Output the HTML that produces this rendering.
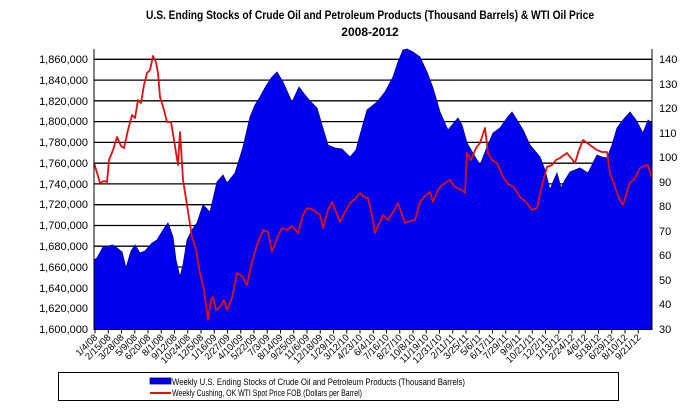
<!DOCTYPE html>
<html><head><meta charset="utf-8"><style>
html,body{margin:0;padding:0;background:#fff;}
svg{display:block;font-family:"Liberation Sans",Arial,sans-serif;}
</style></head><body>
<svg width="685" height="410" viewBox="0 0 685 410" xmlns="http://www.w3.org/2000/svg">
<text x="370" y="19" text-anchor="middle" font-size="12" font-weight="bold" textLength="448" lengthAdjust="spacingAndGlyphs">U.S. Ending Stocks of Crude Oil and Petroleum Products   (Thousand Barrels) &amp; WTI Oil Price</text>
<text x="370" y="36" text-anchor="middle" font-size="12" font-weight="bold">2008-2012</text>
<g stroke="#000" stroke-width="1.3">
<line x1="94" y1="59.3" x2="652" y2="59.3"/><line x1="94" y1="80.1" x2="652" y2="80.1"/><line x1="94" y1="100.8" x2="652" y2="100.8"/><line x1="94" y1="121.6" x2="652" y2="121.6"/><line x1="94" y1="142.4" x2="652" y2="142.4"/><line x1="94" y1="163.2" x2="652" y2="163.2"/><line x1="94" y1="183.9" x2="652" y2="183.9"/><line x1="94" y1="204.7" x2="652" y2="204.7"/><line x1="94" y1="225.5" x2="652" y2="225.5"/><line x1="94" y1="246.2" x2="652" y2="246.2"/><line x1="94" y1="267" x2="652" y2="267"/><line x1="94" y1="287.8" x2="652" y2="287.8"/><line x1="94" y1="308.5" x2="652" y2="308.5"/>
</g>
<polygon fill="#0000f0" stroke="#00008b" stroke-width="0.8" points="94,329.3 94,260 97,258 103,247 108,246 113,245 117,248 122,252 126,268 131,251 135,245 140,253 145,251 152,243 157,240 163,230 168,223 173,237 176,260 180,277 183,265 187,240 192,230 197,223 203,205 210,212 217,182 223,175 227,183 235,173 240,157 243,147 250,117 255,105 260,97 266,86 272,77 277,72 283,82 292,102 299,87 305,95 311,102 317,108 322,125 328,145 335,148 342,149 350,157 356,150 360,135 367,110 377,102 385,92 393,77 398,62 403,50 407,49 413,52 420,57 427,72 433,88 440,112 448,130 458,118 462,125 467,143 474,155 480,165 487,147 493,133 500,128 507,118 512,112 517,120 523,130 530,145 540,157 545,170 550,190 553,182 557,173 561,188 565,180 570,172 575,170 580,168 588,173 592,165 597,155 602,157 607,158 612,145 617,128 623,120 630,112 636,120 643,133 648,120 652,123 652,329.3"/>
<polyline fill="none" stroke="#e01010" stroke-width="1.8" stroke-linejoin="round" points="94,163 98,176 100,183 104,181 107,182 109,160 113,150 117,137 121,146 124,148 128,130 132,115 135,118 138,100 141,103 144,85 147,73 150,70 153,56 156,62 158,73 160,97 164,110 167,122 171,122 174,140 178,165 180,132 183,180 187,205 192,237 196,250 200,273 204,290 208,320 211,300 213,297 216,310 220,307 224,300 227,310 232,298 237,273 242,276 247,285 252,262 257,245 263,230 268,232 272,252 277,238 282,228 287,230 292,226 298,233 303,215 307,208 313,210 320,215 323,228 328,210 332,202 336,212 340,222 345,212 350,203 356,198 360,193 364,197 368,198 372,215 375,233 379,224 383,215 388,220 393,212 398,203 402,215 405,223 410,221 415,220 420,202 425,196 430,192 433,202 437,192 440,187 445,183 450,180 454,186 457,188 462,190 465,193 467,153 471,160 476,148 480,143 485,128 488,153 492,160 497,163 503,177 508,184 514,187 520,197 526,202 532,210 537,208 542,185 547,167 552,165 556,160 560,158 564,155 567,153 571,158 575,163 579,150 583,140 590,145 597,150 602,152 607,152 610,173 615,187 619,198 623,205 627,192 630,183 635,178 640,168 644,166 648,165 650,172 652,178"/>
<g stroke="#000" stroke-width="1">
<line x1="94" y1="49" x2="94" y2="330"/><line x1="652" y1="49" x2="652" y2="330"/><line x1="94" y1="329.5" x2="652" y2="329.5"/>
</g>
<path stroke="#000" stroke-width="1" fill="none" d="M95 329.5v4M108.25 329.5v4M121.5 329.5v4M134.75 329.5v4M148 329.5v4M161.25 329.5v4M174.5 329.5v4M187.75 329.5v4M201 329.5v4M214.25 329.5v4M227.5 329.5v4M240.75 329.5v4M254 329.5v4M267.25 329.5v4M280.5 329.5v4M293.75 329.5v4M307 329.5v4M320.25 329.5v4M333.5 329.5v4M346.75 329.5v4M360 329.5v4M373.25 329.5v4M386.5 329.5v4M399.75 329.5v4M413 329.5v4M426.25 329.5v4M439.5 329.5v4M452.75 329.5v4M466 329.5v4M479.25 329.5v4M492.5 329.5v4M505.75 329.5v4M519 329.5v4M532.25 329.5v4M545.5 329.5v4M558.75 329.5v4M572 329.5v4M585.25 329.5v4M598.5 329.5v4M611.75 329.5v4M625 329.5v4M638.25 329.5v4"/>
<g font-size="11" text-anchor="end" fill="#000">
<text x="88" y="63">1,860,000</text><text x="88" y="84">1,840,000</text><text x="88" y="105">1,820,000</text><text x="88" y="125">1,800,000</text><text x="88" y="146">1,780,000</text><text x="88" y="167">1,760,000</text><text x="88" y="188">1,740,000</text><text x="88" y="208">1,720,000</text><text x="88" y="229">1,700,000</text><text x="88" y="250">1,680,000</text><text x="88" y="271">1,660,000</text><text x="88" y="292">1,640,000</text><text x="88" y="312">1,620,000</text><text x="88" y="333">1,600,000</text>
</g>
<g font-size="11" fill="#000">
<text x="659" y="63">140</text><text x="659" y="88">130</text><text x="659" y="112">120</text><text x="659" y="137">110</text><text x="659" y="161">100</text><text x="659" y="186">90</text><text x="659" y="210">80</text><text x="659" y="235">70</text><text x="659" y="259">60</text><text x="659" y="284">50</text><text x="659" y="308">40</text><text x="659" y="333">30</text>
</g>
<g font-size="9.5" text-anchor="end" fill="#000">
<text transform="translate(98,338) rotate(-45)">1/4/08</text>
<text transform="translate(111.25,338) rotate(-45)">2/15/08</text>
<text transform="translate(124.5,338) rotate(-45)">3/28/08</text>
<text transform="translate(137.75,338) rotate(-45)">5/9/08</text>
<text transform="translate(151,338) rotate(-45)">6/20/08</text>
<text transform="translate(164.25,338) rotate(-45)">8/1/08</text>
<text transform="translate(177.5,338) rotate(-45)">9/12/08</text>
<text transform="translate(190.75,338) rotate(-45)">10/24/08</text>
<text transform="translate(204,338) rotate(-45)">12/5/08</text>
<text transform="translate(217.25,338) rotate(-45)">1/16/09</text>
<text transform="translate(230.5,338) rotate(-45)">2/27/09</text>
<text transform="translate(243.75,338) rotate(-45)">4/10/09</text>
<text transform="translate(257,338) rotate(-45)">5/22/09</text>
<text transform="translate(270.25,338) rotate(-45)">7/3/09</text>
<text transform="translate(283.5,338) rotate(-45)">8/14/09</text>
<text transform="translate(296.75,338) rotate(-45)">9/25/09</text>
<text transform="translate(310,338) rotate(-45)">11/6/09</text>
<text transform="translate(323.25,338) rotate(-45)">12/18/09</text>
<text transform="translate(336.5,338) rotate(-45)">1/29/10</text>
<text transform="translate(349.75,338) rotate(-45)">3/12/10</text>
<text transform="translate(363,338) rotate(-45)">4/23/10</text>
<text transform="translate(376.25,338) rotate(-45)">6/4/10</text>
<text transform="translate(389.5,338) rotate(-45)">7/16/10</text>
<text transform="translate(402.75,338) rotate(-45)">8/27/10</text>
<text transform="translate(416,338) rotate(-45)">10/8/10</text>
<text transform="translate(429.25,338) rotate(-45)">11/19/10</text>
<text transform="translate(442.5,338) rotate(-45)">12/31/10</text>
<text transform="translate(455.75,338) rotate(-45)">2/11/11</text>
<text transform="translate(469,338) rotate(-45)">3/25/11</text>
<text transform="translate(482.25,338) rotate(-45)">5/6/11</text>
<text transform="translate(495.5,338) rotate(-45)">6/17/11</text>
<text transform="translate(508.75,338) rotate(-45)">7/29/11</text>
<text transform="translate(522,338) rotate(-45)">9/9/11</text>
<text transform="translate(535.25,338) rotate(-45)">10/21/11</text>
<text transform="translate(548.5,338) rotate(-45)">12/2/11</text>
<text transform="translate(561.75,338) rotate(-45)">1/13/12</text>
<text transform="translate(575,338) rotate(-45)">2/24/12</text>
<text transform="translate(588.25,338) rotate(-45)">4/6/12</text>
<text transform="translate(601.5,338) rotate(-45)">5/18/12</text>
<text transform="translate(614.75,338) rotate(-45)">6/29/12</text>
<text transform="translate(628,338) rotate(-45)">8/10/12</text>
<text transform="translate(641.25,338) rotate(-45)">9/21/12</text>
</g>
<rect x="58.5" y="372.5" width="560" height="28" fill="#fff" stroke="#000"/>
<rect x="150" y="378" width="21" height="6" fill="#0000f0" stroke="#00008b" stroke-width="0.8"/>
<text x="172" y="385" font-size="9" textLength="293" lengthAdjust="spacingAndGlyphs">Weekly U.S. Ending Stocks of Crude Oil and Petroleum Products  (Thousand Barrels)</text>
<line x1="150" y1="393" x2="171" y2="393" stroke="#e01010" stroke-width="2"/>
<text x="172" y="396" font-size="9" textLength="190" lengthAdjust="spacingAndGlyphs">Weekly Cushing, OK WTI Spot Price FOB  (Dollars per Barrel)</text>
</svg>
</body></html>
